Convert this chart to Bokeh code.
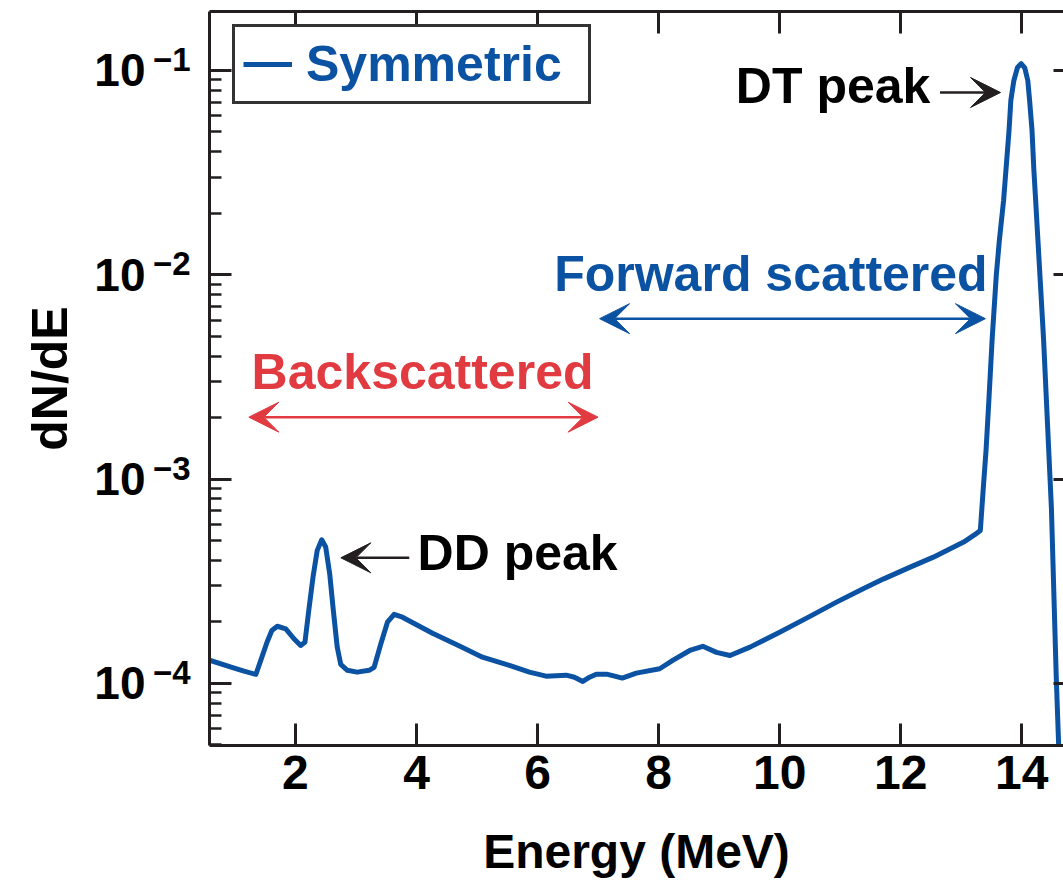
from bokeh.plotting import figure
from bokeh.models import (Range1d, LinearAxis, LogAxis, LogScale, FixedTicker, Arrow, VeeHead,
                          Label, Legend, LegendItem, CustomJSTickFormatter)
from bokeh.embed import file_html
from bokeh.resources import INLINE

# ---------------- data ----------------
energy = [0.58, 0.95, 1.15, 1.346, 1.43, 1.53, 1.61, 1.70, 1.84, 1.975, 2.086, 2.157,
          2.22, 2.29, 2.36, 2.434, 2.50, 2.566, 2.626, 2.69, 2.748, 2.858, 3.02, 3.217,
          3.30, 3.41, 3.52, 3.63, 3.768, 4.265, 4.71, 5.09, 5.535, 5.866, 6.14, 6.474,
          6.61, 6.748, 6.86, 6.97, 7.14, 7.273, 7.40, 7.632, 8.018, 8.24, 8.515, 8.73,
          8.957, 9.18, 9.51, 10.0, 10.50, 10.94, 11.38, 11.72, 12.157, 12.54, 13.04,
          13.23, 13.316, 13.37, 13.41, 13.457, 13.51, 13.58, 13.63, 13.70, 13.79, 13.82,
          13.87, 13.93, 13.99, 14.05, 14.10, 14.13, 14.17, 14.20, 14.23, 14.36, 14.49,
          14.57, 14.61, 14.63]
dnde = [1.30e-4, 1.20e-4, 1.148e-4, 1.107e-4, 1.305e-4, 1.59e-4, 1.815e-4, 1.905e-4,
        1.85e-4, 1.655e-4, 1.535e-4, 1.59e-4, 2.275e-4, 3.31e-4, 4.48e-4, 5.05e-4,
        4.65e-4, 3.44e-4, 2.275e-4, 1.506e-4, 1.24e-4, 1.16e-4, 1.136e-4, 1.16e-4,
        1.20e-4, 1.56e-4, 1.995e-4, 2.18e-4, 2.11e-4, 1.76e-4, 1.525e-4, 1.345e-4,
        1.225e-4, 1.136e-4, 1.086e-4, 1.098e-4, 1.073e-4, 1.023e-4, 1.073e-4, 1.11e-4,
        1.11e-4, 1.086e-4, 1.062e-4, 1.123e-4, 1.18e-4, 1.30e-4, 1.45e-4, 1.52e-4,
        1.42e-4, 1.37e-4, 1.506e-4, 1.78e-4, 2.13e-4, 2.50e-4, 2.91e-4, 3.25e-4,
        3.71e-4, 4.15e-4, 4.92e-4, 5.36e-4, 5.61e-4, 9.5e-4, 1.38e-3, 2.43e-3, 4.78e-3,
        1.0e-2, 1.47e-2, 2.31e-2, 5.08e-2, 7.13e-2, 8.93e-2, 1.035e-1, 1.08e-1,
        1.03e-1, 8.93e-2, 7.13e-2, 5.08e-2, 3.27e-2, 2.31e-2, 4.88e-3, 7.26e-4,
        1.08e-4, 4.97e-5, 4.0e-5]

x_ticks = [2, 4, 6, 8, 10, 12, 14]
y_ticks = [1e-4, 1e-3, 1e-2, 1e-1]
y_bases = ["10", "10", "10", "10"]
y_exponents = ["\u22124", "\u22123", "\u22122", "\u22121"]
y_minor = [m * 10.0 ** k for k in range(-5, 0) for m in range(2, 10)]
series_name = "Symmetric"
x_title = "Energy (MeV)"
y_title = "dN/dE"

# ---------------- styles ----------------
FONT = "Liberation Sans"
BLUE = "#0b53a2"
RED = "#e13a40"
INK = "#231f20"
X_START, X_END = 0.58, 14.69
Y_START, Y_END = 4.97e-5, 0.1943
SUP_SHIFT = 10 ** (-11 / 204.33)   # raises the exponents by ~11 px

p = figure(width=1063, height=881, x_range=Range1d(X_START, X_END),
           y_range=Range1d(Y_START, Y_END), y_axis_type="log",
           output_backend="svg", toolbar_location=None,
           min_border_left=209, min_border_right=0, min_border_top=11,
           min_border_bottom=136)
p.outline_line_color = None
p.grid.visible = False
p.background_fill_color = "white"
p.border_fill_color = "white"
p.extra_y_ranges = {"sup": Range1d(Y_START * SUP_SHIFT, Y_END * SUP_SHIFT)}
p.extra_y_scales = {"sup": LogScale()}

curve = p.line(energy, dnde, line_color=BLUE, line_width=5, line_join="round")


def pick(labels):
    return CustomJSTickFormatter(args=dict(tvals=y_ticks, labs=labels), code="""
        for (let i = 0; i < tvals.length; i++) {
            if (Math.abs(Math.log10(tvals[i]) - Math.log10(tick)) < 1e-6) return labs[i];
        }
        return '';""")


# bottom axis
xa = p.xaxis[0]
xa.ticker = FixedTicker(ticks=x_ticks)
xa.major_tick_in = 22
xa.major_tick_out = 0
xa.minor_tick_line_color = None
xa.axis_line_width = 3
xa.axis_line_color = INK
xa.major_tick_line_width = 3
xa.major_tick_line_color = INK
xa.major_label_text_font = FONT
xa.major_label_text_font_style = "bold"
xa.major_label_text_font_size = "48px"
xa.major_label_text_color = "black"
xa.major_label_standoff = 10
xa.axis_label = x_title
xa.axis_label_text_font = FONT
xa.axis_label_text_font_style = "bold"
xa.axis_label_text_font_size = "48px"
xa.axis_label_text_color = "black"
xa.axis_label_standoff = 33

# left axis 1: ticks only
ya = p.yaxis[0]
ya.ticker = FixedTicker(ticks=y_ticks, minor_ticks=y_minor)
ya.formatter = CustomJSTickFormatter(code="return ''")
ya.major_label_text_font_size = "0px"
ya.major_label_standoff = 0
ya.major_tick_in = 22
ya.major_tick_out = 0
ya.minor_tick_in = 12
ya.minor_tick_out = 0
ya.axis_line_width = 3
ya.axis_line_color = INK
ya.major_tick_line_width = 3
ya.major_tick_line_color = INK
ya.minor_tick_line_width = 2.5
ya.minor_tick_line_color = INK

# left axis 2: exponents (slightly raised)
sup_axis = LogAxis(y_range_name="sup", ticker=FixedTicker(ticks=y_ticks), formatter=pick(y_exponents),
                   axis_line_color=None, major_tick_line_color=None, minor_tick_line_color=None,
                   major_tick_in=0, major_tick_out=0, minor_tick_in=0, minor_tick_out=0,
                   major_label_standoff=19, major_label_text_font=FONT,
                   major_label_text_font_style="bold", major_label_text_font_size="33px",
                   major_label_text_color="black")
p.add_layout(sup_axis, "left")

# left axis 3: the "10" bases and the title
base_axis = LogAxis(ticker=FixedTicker(ticks=y_ticks), formatter=pick(y_bases),
                    axis_line_color=None, major_tick_line_color=None, minor_tick_line_color=None,
                    major_tick_in=0, major_tick_out=0, minor_tick_in=0, minor_tick_out=0,
                    major_label_standoff=4, major_label_text_font=FONT,
                    major_label_text_font_style="bold", major_label_text_font_size="46px",
                    major_label_text_color="black",
                    axis_label=y_title, axis_label_text_font=FONT,
                    axis_label_text_font_style="bold", axis_label_text_font_size="50px",
                    axis_label_text_color="black", axis_label_standoff=13)
p.add_layout(base_axis, "left")

# top axis (ticks only)
top = LinearAxis(ticker=FixedTicker(ticks=x_ticks), major_tick_in=22, major_tick_out=0,
                 minor_tick_line_color=None, axis_line_width=3, axis_line_color=INK,
                 major_tick_line_width=3, major_tick_line_color=INK,
                 major_label_text_font_size="0px", major_label_standoff=0,
                 formatter=CustomJSTickFormatter(code="return ''"))
p.add_layout(top, "above")

# right axis (decade ticks only, frame edge is outside the picture)
right = LogAxis(ticker=FixedTicker(ticks=y_ticks), major_tick_in=10, major_tick_out=0,
                minor_tick_line_color=None, axis_line_color=None,
                major_tick_line_width=3, major_tick_line_color=INK,
                major_label_text_font_size="0px", major_label_standoff=0,
                formatter=CustomJSTickFormatter(code="return ''"))
p.add_layout(right, "right")

# legend
legend = Legend(items=[LegendItem(label=series_name, renderers=[curve])],
                location=(23, 641), margin=0, padding=8, spacing=0,
                glyph_width=49, label_standoff=14, label_width=274,
                label_text_font=FONT, label_text_font_style="bold",
                label_text_font_size="50px", label_text_color=BLUE,
                border_line_color="#333333", border_line_width=3, border_line_alpha=1.0,
                background_fill_color="white", background_fill_alpha=1.0)
p.add_layout(legend)


def label(x, y, s, color="black", align="left"):
    p.add_layout(Label(x=x, y=y, text=s, text_font=FONT, text_font_style="bold",
                       text_font_size="50px", text_color=color, text_align=align,
                       text_baseline="alphabetic", y_offset=18))


def arrow(x0, x1, y, color, both):
    head = dict(size=30, fill_color=color, line_color=color, line_width=1)
    kw = dict(end=VeeHead(**head))
    kw["start"] = VeeHead(**head) if both else None
    p.add_layout(Arrow(x_start=x0, y_start=y, x_end=x1, y_end=y, line_color=color,
                       line_width=2.5, **kw))


label(12.49, 0.0687, "DT peak", align="right")
arrow(12.65, 13.65, 0.078, INK, False)

label(4.017, 3.57e-4, "DD peak")
arrow(3.88, 2.75, 4.12e-4, INK, False)

label(4.10, 2.72e-3, "Backscattered", color=RED, align="center")
arrow(1.23, 7.0, 2.01e-3, RED, True)

label(9.856, 8.22e-3, "Forward scattered", color=BLUE, align="center")
arrow(7.025, 13.40, 6.10e-3, BLUE, True)

open("out.html", "w").write(file_html(p, INLINE))
